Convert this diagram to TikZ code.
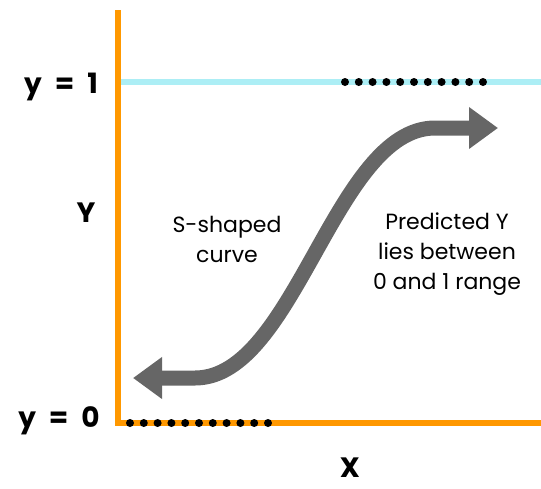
\documentclass[tikz,border=0pt]{standalone}
\usepackage{fontspec}
\setmainfont{Poppins}
\usetikzlibrary{arrows.meta, positioning}
\definecolor{axisorange}{RGB}{255, 152, 0}
\definecolor{levelcyan}{RGB}{172, 238, 245}
\definecolor{curvegray}{RGB}{102, 102, 102}

\begin{document}
\begin{tikzpicture}[
                x=1pt, y=-1pt,
                axis/.style={draw=axisorange, line width=6pt},
                level/.style={draw=levelcyan, line width=6pt},
                axislabel/.style={font=\fontsize{28}{30}\selectfont\bfseries, inner sep=0pt},
                note/.style={align=center, font=\fontsize{22}{30}\selectfont, inner sep=0pt},
                pt/.style={circle, fill=black, inner sep=0pt, minimum size=8pt},
                scurve/.style={draw=curvegray, line width=15pt, {Triangle[length=29pt, width=40pt]}-{Triangle[length=29pt, width=40pt]}}
            ]
                \useasboundingbox (0,0) rectangle (541,488);
                % axes and level line
                \coordinate (top) at (118,10);
                \coordinate (origin) at (118,423);
                \coordinate (right) at (541,423);
                \coordinate (oneleft) at (121,82);
                \coordinate (oneright) at (541,82);
                \draw[level] (oneleft) -- (oneright);
                \draw[axis] (top) -- (118,426);
                \draw[axis] (115,423) -- (right);
                
                % dotted ends
                \foreach \i in {0,...,10} {
                    \node [pt] (hi\i) at (345+13.8*\i, 82) {};
                    \node [pt] (lo\i) at (130+13.8*\i, 423) {};
                }
                
                \node [axislabel, anchor=base] (yone) at (61,93) {y\hspace{13pt}=\hspace{13pt}1};
                \node [axislabel, anchor=base] (yzero) at (59,427) {y\hspace{13pt}=\hspace{13pt}0};
                \node [axislabel] (ylab) at (86,213) {Y};
                \node [axislabel] (xlab) at (350,468) {X};
                
                % sigmoid
                \coordinate (lefttip) at (133,378);
                \coordinate (righttip) at (498,128);
                \draw[scurve] (lefttip) -- (195,378) .. controls (295,378) and (335,128) .. (435,128) -- (righttip);
                
                \node [note] (shape) at (227,239) {S-shaped\\curve};
                \node [note] (range) at (447,254) {Predicted Y\\lies between\\0 and 1 range};
            \end{tikzpicture}
\end{document}
